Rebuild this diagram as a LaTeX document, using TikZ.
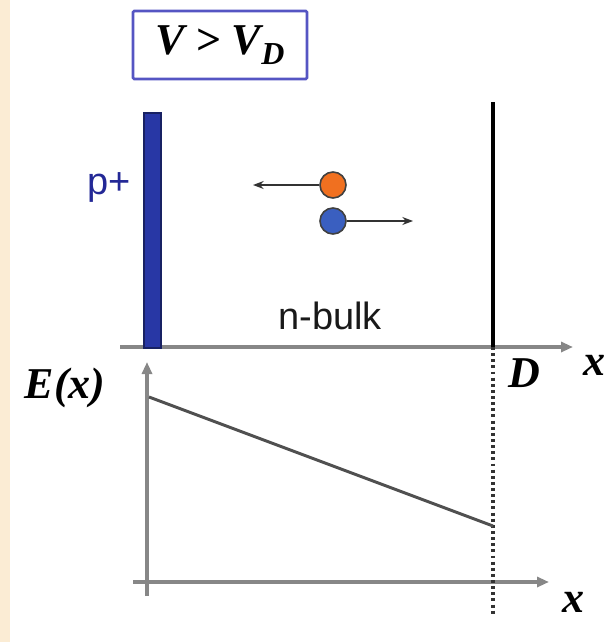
\documentclass[tikz,border=0pt]{standalone}
\usepackage{fontspec}
\setmainfont{Liberation Sans}
\newfontfamily\tnr{Liberation Serif}
\usetikzlibrary{arrows.meta}

\definecolor{pbar}{RGB}{40,55,165}
\definecolor{pblue}{RGB}{35,40,150}
\definecolor{boxblue}{RGB}{85,85,195}
\definecolor{holeor}{RGB}{240,112,32}
\definecolor{elecbl}{RGB}{58,95,192}
\definecolor{axisgray}{RGB}{135,135,135}
\definecolor{fieldgray}{RGB}{80,80,80}
\definecolor{strip}{RGB}{251,236,212}

\tikzset{
  axis/.style={draw=axisgray, line width=2.6pt, -{Triangle[length=9pt,width=7.5pt]}},
  drift/.style={draw=black!80, line width=1pt, -{Stealth[length=8pt,width=6pt]}},
  carrier/.style={circle, draw=black!75, line width=1.2pt, minimum size=19.5pt, inner sep=0pt},
  bilab/.style={font=\tnr\bfseries\itshape\fontsize{33}{33}\selectfont, inner sep=0pt},
  sanslab/.style={font=\fontsize{28.5}{30}\selectfont, inner sep=0pt},
}

\begin{document}
\begin{tikzpicture}[x=0.75pt,y=-0.75pt]
        % one unit = one pixel of the 606x642 reference, y downwards
        \useasboundingbox (0,0) rectangle (606,642);
        \clip (0,0) rectangle (606,642);
        \fill[strip] (0,0) rectangle (10,642);

        \coordinate (pbot) at (144,348);
        \coordinate (ptop) at (161,113);
        \coordinate (Dtop) at (493,102);
        \coordinate (Dbot) at (493,347);
        \coordinate (xstart) at (120,347);
        \coordinate (xend) at (573,347);
        \coordinate (Estart) at (147,596);
        \coordinate (Eend) at (147,362);
        \coordinate (x2start) at (133,582);
        \coordinate (x2end) at (549,582);
        \coordinate (dotend) at (493,616);
        \coordinate (F0) at (149,397);
        \coordinate (FD) at (493,526);
        \coordinate (holeend) at (253,185);
        \coordinate (elecend) at (413,221);

        % Bedingung
        \node[draw=boxblue, line width=2pt, rounded corners=1pt,
              minimum width=130.5pt, minimum height=51pt, inner sep=0pt,
              font=\tnr\bfseries\itshape\fontsize{33}{33}\selectfont] (cond) at (220,45)
              {V > V\raisebox{-0.5ex}{\fontsize{24}{24}\selectfont D}};

        % Diode
        \draw[axis] (xstart) -- (xend);
        \fill[pbar, draw=pbar!60!black, line width=0.8pt] (pbot) rectangle (ptop);
        \draw[black, line width=3.3pt] (Dtop) -- (Dbot);
        \node[sanslab, text=pblue] (pplus) at (109,187) {p+};
        \node[sanslab, text=black!90] (nbulk) at (330,316) {n-bulk};

        % Ladungstraeger
        \node[carrier, fill=holeor] (hole) at (333,185) {};
        \node[carrier, fill=elecbl] (elec) at (333,221) {};
        \draw[drift] (hole.west) -- (holeend);
        \draw[drift] (elec.east) -- (elecend);

        % Feld
        \draw[axis] (Estart) -- (Eend);
        \draw[axis] (x2start) -- (x2end);
        \draw[black!80, line width=2.6pt, dash pattern=on 2.2pt off 2.4pt] (Dbot) -- (dotend);
        \draw[fieldgray, line width=2.2pt] (F0) -- (FD);

        \node[bilab] (Elab) at (65,388) {E(x)};
        \node[bilab] (Dlab) at (524,373) {D};
        \node[bilab] (xtop) at (594,365) {x};
        \node[bilab] (xbot) at (573,602) {x};
\end{tikzpicture}
\end{document}
